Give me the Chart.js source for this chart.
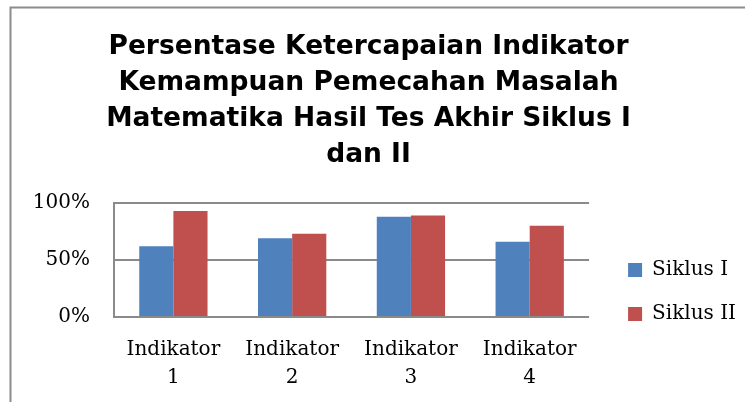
<!DOCTYPE html>
<html>
<head>
<meta charset="utf-8">
<script src="https://cdn.jsdelivr.net/npm/chart.js@4.4.1/dist/chart.umd.min.js"></script>
<style>
  html, body { margin: 0; padding: 0; background: #fff; }
  #wrap { width: 745px; height: 402px; }
</style>
</head>
<body>
<div id="wrap"><canvas id="chart" width="745" height="402"></canvas></div>
<script>
const categories = [["Indikator", "1"], ["Indikator", "2"], ["Indikator", "3"], ["Indikator", "4"]];
const siklus1 = [62, 69, 88, 66];
const siklus2 = [93, 73, 89, 80];
const titleLines = [
  "Persentase Ketercapaian Indikator",
  "Kemampuan Pemecahan Masalah",
  "Matematika Hasil Tes Akhir Siklus I",
  "dan II"
];

/* outer frame of the chart object */
const framePlugin = {
  id: "frame",
  afterDraw(chart) {
    const ctx = chart.ctx;
    ctx.save();
    ctx.strokeStyle = "#8c8c8c";
    ctx.lineWidth = 2;
    ctx.beginPath();
    ctx.moveTo(10.5, chart.height);
    ctx.lineTo(10.5, 7.5);
    ctx.lineTo(chart.width, 7.5);
    ctx.stroke();
    ctx.restore();
  }
};

/* extra gap between plot and legend, legend sits lower like in Excel */
const LEGEND_GAP = 15;
const legendPlace = {
  id: "legendPlace",
  afterInit(chart) {
    const lg = chart.legend;
    const fit = lg.fit;
    lg.fit = function () { fit.call(this); this.width += LEGEND_GAP - 9; };
  },
  afterLayout(chart) {
    const lg = chart.legend;
    lg.left += LEGEND_GAP;
    lg.top = 192;
    lg.bottom = 392;
  }
};

const serif = { family: "'DejaVu Serif', serif", size: 20 };

new Chart(document.getElementById("chart"), {
  type: "bar",
  data: {
    labels: categories,
    datasets: [
      { label: "Siklus I", data: siklus1, backgroundColor: "#4F81BD" },
      { label: "Siklus II", data: siklus2, backgroundColor: "#C0504D" }
    ]
  },
  options: {
    responsive: false,
    animation: false,
    datasets: { bar: { categoryPercentage: 0.575, barPercentage: 1.0 } },
    layout: { padding: { left: 0, right: 8, top: 0, bottom: 10 } },
    plugins: {
      title: {
        display: true,
        text: titleLines,
        color: "#000",
        font: { family: "'DejaVu Sans', sans-serif", size: 26.5, weight: "bold", lineHeight: 36 / 26.5 },
        padding: { top: 29, bottom: 30 }
      },
      legend: {
        position: "right",
        labels: {
          color: "#000",
          font: serif,
          boxWidth: 14,
          boxHeight: 14,
          padding: 24
        }
      },
      tooltip: { enabled: false }
    },
    scales: {
      x: {
        afterFit(s) { s.height = 75; },
        grid: { display: false, drawTicks: false },
        border: { display: false },
        ticks: { color: "#000", font: { ...serif, lineHeight: 1.4 }, padding: 19, maxRotation: 0 }
      },
      y: {
        min: 0,
        max: 100,
        afterFit(s) { s.width = 114; },
        ticks: { stepSize: 50, color: "#000", font: serif, padding: 24, callback: v => v + "%" },
        grid: { color: "#8a8a8a", lineWidth: 2, drawTicks: false },
        border: { display: true, color: "#8a8a8a", width: 2 }
      }
    }
  },
  plugins: [framePlugin, legendPlace]
});
</script>
</body>
</html>
